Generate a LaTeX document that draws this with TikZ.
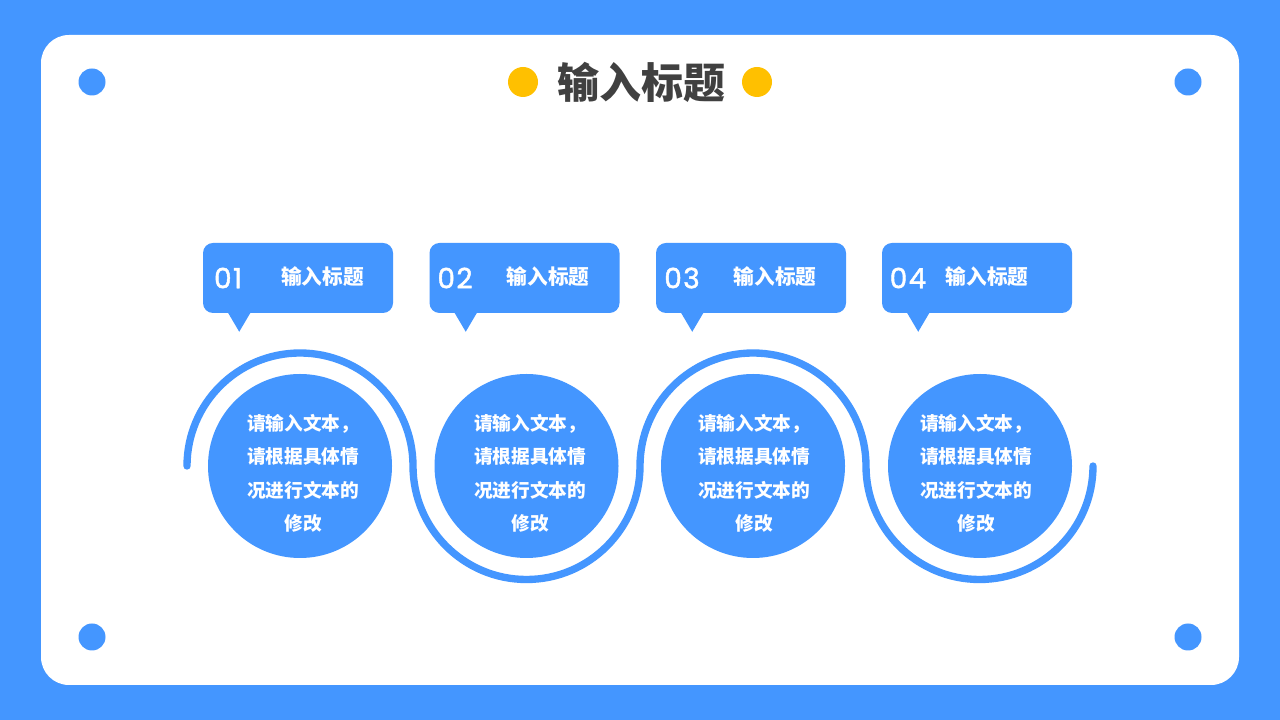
\documentclass[tikz,border=0pt]{standalone}
\usepackage{fontspec}
\newfontfamily\cjk{Noto Sans CJK SC}
\newfontfamily\digits[LetterSpace=5,FakeBold=1.5]{Poppins}
\usepackage{xcolor}
\definecolor{azul}{HTML}{4496FF}
\definecolor{ouro}{HTML}{FFC000}
\definecolor{grafite}{HTML}{404040}

\begin{document}
\begin{tikzpicture}[x=0.75pt, y=0.75pt]
	\tikzset{
	    painel/.style={fill=white, rounded corners=21pt},
	    furo/.style={circle, fill=azul, minimum size=20.25pt, inner sep=0pt},
	    ponto/.style={circle, fill=ouro, minimum size=22.5pt, inner sep=0pt},
	    titulo/.style={text=grafite, inner sep=0pt, font=\cjk\bfseries\fontsize{31.5}{36}\selectfont},
	    etiqueta/.style={fill=azul, rounded corners=7.5pt, minimum width=142.5pt, minimum height=52.5pt, inner sep=0pt},
	    numero/.style={text=white, inner sep=0pt, font=\digits\fontsize{21}{24}\selectfont},
	    rotulo/.style={text=white, inner sep=0pt, font=\cjk\bfseries\fontsize{15.5}{18}\selectfont},
	    disco/.style={circle, fill=azul, minimum size=138pt, inner sep=0pt},
	    texto/.style={text=white, inner sep=0pt, align=center, font=\cjk\bfseries\fontsize{14}{25.1}\selectfont},
	    onda/.style={draw=azul, line width=5.5pt, line cap=round}
	}
	\fill[azul] (0,0) rectangle (1280,720);
	\fill[painel] (41,35) rectangle (1239,685);

	% cantos
	\node[furo] (furoA) at (92,638) {};
	\node[furo] (furoB) at (1188,638) {};
	\node[furo] (furoC) at (92,83) {};
	\node[furo] (furoD) at (1188,83) {};

	% titulo
	\node[ponto] (pontoA) at (523,638) {};
	\node[ponto] (pontoB) at (757,638) {};
	\node[titulo] (cabeca) at (641.5,638) {输入标题};

	% onda
	\coordinate (ondaA) at (187,254);
	\draw[onda] (ondaA) arc[start angle=180, end angle=0, radius=113]
	    arc[start angle=180, end angle=360, radius=113.5]
	    arc[start angle=180, end angle=0, radius=113]
	    arc[start angle=180, end angle=360, radius=113.5];

	% etiquetas
	\node[etiqueta] (tagA) at (298,442) {};
	\node[etiqueta] (tagB) at (524.5,442) {};
	\node[etiqueta] (tagC) at (751,442) {};
	\node[etiqueta] (tagD) at (977,442) {};
	\fill[azul] (tagA.south west) ++(25,1) -- ++(11.5,-19.5) -- ++(11.5,19.5) -- cycle;
	\fill[azul] (tagB.south west) ++(25,1) -- ++(11.5,-19.5) -- ++(11.5,19.5) -- cycle;
	\fill[azul] (tagC.south west) ++(25,1) -- ++(11.5,-19.5) -- ++(11.5,19.5) -- cycle;
	\fill[azul] (tagD.south west) ++(25,1) -- ++(11.5,-19.5) -- ++(11.5,19.5) -- cycle;

	\node[numero] (numA) at (228,442) {01};
	\node[numero] (numB) at (455,442) {02};
	\node[numero] (numC) at (682,442) {03};
	\node[numero] (numD) at (908,442) {04};
	\node[rotulo] (rotA) at (322.5,443) {输入标题};
	\node[rotulo] (rotB) at (548,443) {输入标题};
	\node[rotulo] (rotC) at (775,443) {输入标题};
	\node[rotulo] (rotD) at (987,443) {输入标题};

	% discos
	\node[disco] (discoA) at (300,254) {};
	\node[disco] (discoB) at (526.5,254) {};
	\node[disco] (discoC) at (753,254) {};
	\node[disco] (discoD) at (980,254) {};
	\node[texto] (txtA) at (303,246.5) {请输入文本，\\请根据具体情\\况进行文本的\\修改};
	\node[texto] (txtB) at (530,246.5) {请输入文本，\\请根据具体情\\况进行文本的\\修改};
	\node[texto] (txtC) at (754,246.5) {请输入文本，\\请根据具体情\\况进行文本的\\修改};
	\node[texto] (txtD) at (976,246.5) {请输入文本，\\请根据具体情\\况进行文本的\\修改};
\end{tikzpicture}
\end{document}
